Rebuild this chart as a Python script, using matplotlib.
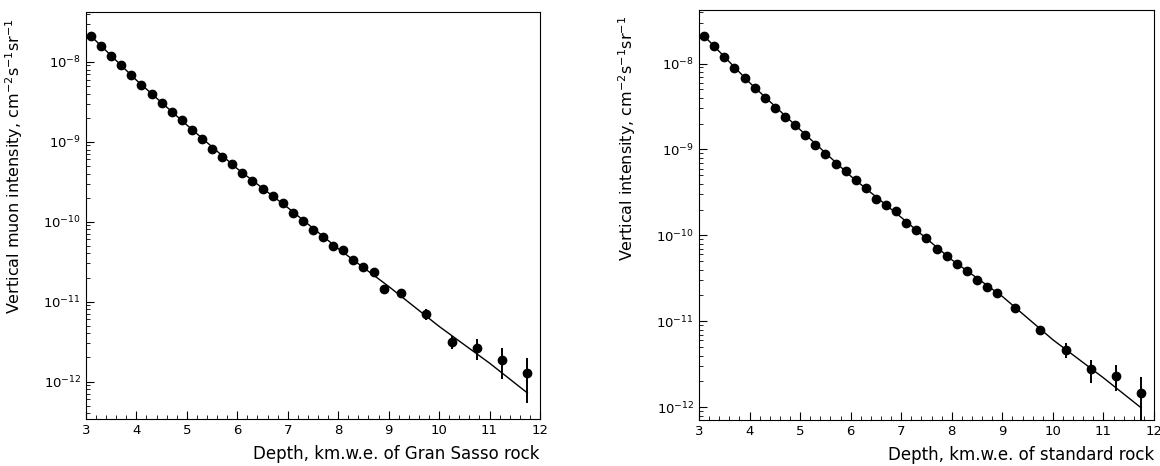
import numpy as np
import matplotlib
matplotlib.use('Agg')
import matplotlib.pyplot as plt
from matplotlib.ticker import MultipleLocator, LogLocator, NullFormatter

# Depth bins (km.w.e.)
depth = [3.1, 3.3, 3.5, 3.7, 3.9, 4.1, 4.3, 4.5, 4.7, 4.9, 5.1, 5.3, 5.5, 5.7,
         5.9, 6.1, 6.3, 6.5, 6.7, 6.9, 7.1, 7.3, 7.5, 7.7, 7.9, 8.1, 8.3, 8.5,
         8.7, 8.9, 9.25, 9.75, 10.25, 10.75, 11.25, 11.75]

# Gran Sasso rock, vertical muon intensity (cm^-2 s^-1 sr^-1)
gs_int = [2.11e-8, 1.60e-8, 1.20e-8, 9.0e-9, 6.76e-9, 5.16e-9, 3.91e-9, 3.02e-9,
          2.35e-9, 1.85e-9, 1.40e-9, 1.09e-9, 8.2e-10, 6.5e-10, 5.26e-10, 4.06e-10,
          3.2e-10, 2.56e-10, 2.08e-10, 1.71e-10, 1.30e-10, 1.03e-10, 7.94e-11,
          6.47e-11, 4.97e-11, 4.40e-11, 3.29e-11, 2.74e-11, 2.33e-11, 1.44e-11,
          1.27e-11, 7.0e-12, 3.11e-12, 2.64e-12, 1.87e-12, 1.27e-12]
gs_err = [0]*29 + [0.13, 0.08, 0.17, 0.18, 0.30, 0.42, 0.57]

# standard rock, vertical intensity
sr_int = [2.08e-8, 1.59e-8, 1.19e-8, 8.98e-9, 6.88e-9, 5.20e-9, 3.98e-9, 3.05e-9,
          2.36e-9, 1.95e-9, 1.46e-9, 1.13e-9, 8.8e-10, 6.8e-10, 5.55e-10, 4.36e-10,
          3.52e-10, 2.67e-10, 2.27e-10, 1.90e-10, 1.40e-10, 1.15e-10, 9.4e-11,
          6.97e-11, 5.78e-11, 4.60e-11, 3.85e-11, 3.02e-11, 2.52e-11, 2.12e-11,
          1.42e-11, 7.9e-12, 4.64e-12, 2.76e-12, 2.31e-12, 1.46e-12]
sr_err = [0]*29 + [0.06, 0.06, 0.12, 0.20, 0.30, 0.33, 0.56]

# fitted curves
fit_depth = [3.1, 4.0, 5.0, 6.0, 7.0, 8.0, 9.0, 10.0, 11.0, 11.75]
gs_fit = [2.1e-8, 5.9e-9, 1.62e-9, 4.6e-10, 1.5e-10, 4.6e-11, 1.55e-11, 4.9e-12,
          1.7e-12, 7.2e-13]
sr_fit = [2.1e-8, 6.0e-9, 1.7e-9, 4.9e-10, 1.62e-10, 5.2e-11, 1.95e-11, 6.1e-12,
          2.2e-12, 9.8e-13]

plt.rcParams['font.family'] = ['DejaVu Sans']
plt.rcParams['mathtext.fontset'] = 'dejavusans'

fig = plt.figure(figsize=(11.6, 4.66), dpi=100)
ax1 = fig.add_axes([0.0741, 0.1009, 0.3914, 0.8733])
ax2 = fig.add_axes([0.6026, 0.0987, 0.3922, 0.8798])


def panel(ax, vals, rel, fit, ylab, xlab, ylim):
    vals = np.array(vals)
    err = vals * np.array(rel)
    ax.plot(fit_depth, fit, color='black', lw=1.0)
    ax.errorbar(depth, vals, yerr=err, fmt='o', color='black', ms=6,
                elinewidth=1.4, capsize=0)
    ax.set_yscale('log')
    ax.set_xlim(3, 12)
    ax.set_ylim(*ylim)
    ax.xaxis.set_major_locator(MultipleLocator(1))
    ax.xaxis.set_minor_locator(MultipleLocator(0.2))
    ax.yaxis.set_major_locator(LogLocator(base=10, numticks=20))
    ax.yaxis.set_minor_locator(LogLocator(base=10, subs=np.arange(2, 10), numticks=20))
    ax.yaxis.set_minor_formatter(NullFormatter())
    ax.tick_params(which='both', direction='in', top=False, right=False,
                   labelsize=9.5)
    ax.tick_params(which='major', length=6)
    ax.tick_params(which='minor', length=3)
    ax.set_ylabel(ylab, fontsize=11.5, loc='top')
    ax.set_xlabel(xlab, fontsize=12, loc='right', labelpad=6)


panel(ax1, gs_int, gs_err, gs_fit,
      'Vertical muon intensity, cm$^{-2}$s$^{-1}$sr$^{-1}$',
      'Depth, km.w.e. of Gran Sasso rock', (3.4e-13, 4.2e-8))
panel(ax2, sr_int, sr_err, sr_fit,
      'Vertical intensity, cm$^{-2}$s$^{-1}$sr$^{-1}$',
      'Depth, km.w.e. of standard rock', (7.1e-13, 4.2e-8))

ax1.yaxis.set_label_coords(-0.135, 0.985)
ax2.yaxis.set_label_coords(-0.135, 0.985)

fig.savefig('out.png', dpi=100)
